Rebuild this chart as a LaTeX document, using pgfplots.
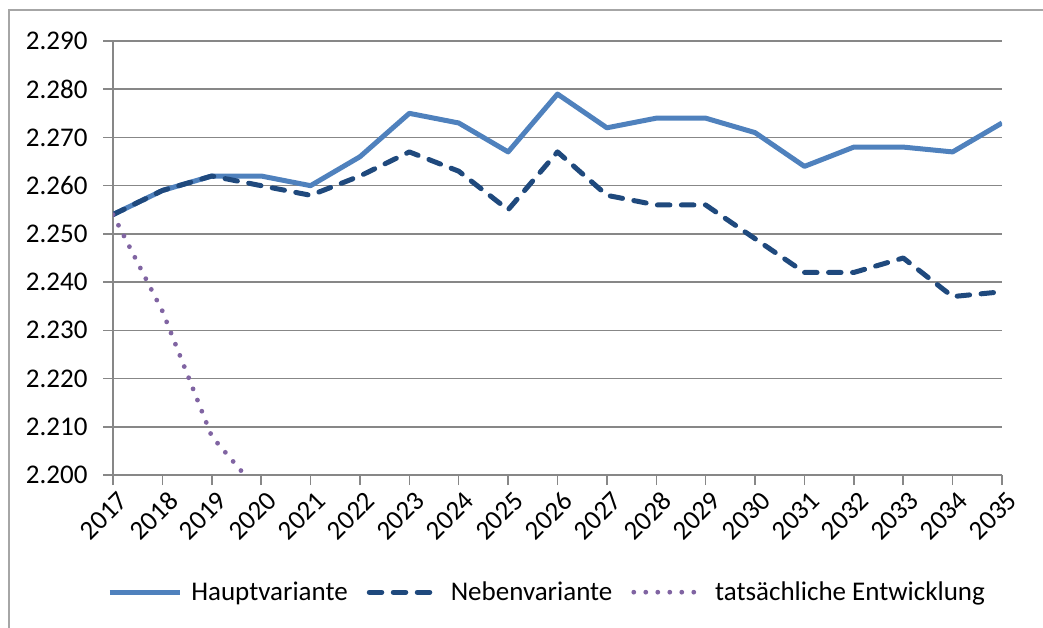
\documentclass[border=0pt]{standalone}
\usepackage{fontspec}
\setmainfont{Carlito}
\usepackage{pgfplots}
\pgfplotsset{compat=1.18}
\definecolor{hv}{HTML}{4F81BD}
\definecolor{nv}{HTML}{1F497D}
\definecolor{te}{HTML}{8064A2}
\definecolor{gridc}{HTML}{878787}
\definecolor{framec}{HTML}{A6A6A6}
\newcommand{\lblfont}{\fontsize{27}{32}\selectfont}
\begin{document}
\begin{tikzpicture}[x=1pt,y=1pt]
\useasboundingbox (0,0) rectangle (1043,627);
\clip (0,0) rectangle (1043,627);
\draw[framec, line width=1.5pt] (9,-10) -- (9,617) -- (1060,617);
\begin{axis}[
  at={(113pt,152pt)}, anchor=south west,
  scale only axis, width=889pt, height=434pt,
  xmin=2017, xmax=2035, ymin=2.2, ymax=2.29,
  axis lines*=left,
  axis line style={gridc, line width=1.5pt},
  xtick={2017,2018,...,2035},
  ytick={2.2,2.21,2.22,2.23,2.24,2.25,2.26,2.27,2.28,2.29},
  tick align=outside, major tick length=10pt,
  tick style={gridc, line width=1.5pt},
  ymajorgrids, grid style={gridc, line width=1.5pt},
  yticklabel style={font=\lblfont, /pgf/number format/fixed, /pgf/number format/fixed zerofill, /pgf/number format/precision=3, /pgf/number format/assume math mode=true, xshift=-12pt},
  xticklabel style={font=\lblfont, /pgf/number format/1000 sep={}, /pgf/number format/assume math mode=true, rotate=45, anchor=north east, xshift=3pt, yshift=-3pt},
  legend columns=3,
  legend style={draw=none, fill=none, font=\lblfont, at={(-0.01,-0.27)}, anchor=west,
    /tikz/every odd column/.append style={column sep=7pt},
    /tikz/every even column/.append style={column sep=17pt}},
  legend image code/.code={\draw[#1] (0pt,0pt) -- (70pt,0pt);},
]
\addplot[hv, line width=5pt, line join=round] table {
2017 2.254
2018 2.259
2019 2.262
2020 2.262
2021 2.260
2022 2.266
2023 2.275
2024 2.273
2025 2.267
2026 2.279
2027 2.272
2028 2.274
2029 2.274
2030 2.271
2031 2.264
2032 2.268
2033 2.268
2034 2.267
2035 2.273
};
\addlegendentry{Hauptvariante}
\addplot[nv, line width=5pt, line cap=round, line join=round, dash pattern=on 12.5pt off 11.5pt] table {
2017 2.254
2018 2.259
2019 2.262
2020 2.260
2021 2.258
2022 2.262
2023 2.267
2024 2.263
2025 2.255
2026 2.267
2027 2.258
2028 2.256
2029 2.256
2030 2.249
2031 2.242
2032 2.242
2033 2.245
2034 2.237
2035 2.238
};
\addlegendentry{Nebenvariante}
\addplot[te, line width=4.8pt, line cap=round, dash pattern=on 0pt off 12pt] table {
2017 2.254
2018 2.234
2019 2.208
2020 2.196
};
\addlegendentry{tatsächliche Entwicklung}
\end{axis}
\end{tikzpicture}
\end{document}
